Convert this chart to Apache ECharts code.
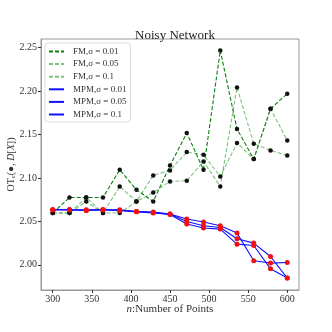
<!DOCTYPE html>
<html>
<head>
<meta charset="utf-8">
<script src="https://cdn.jsdelivr.net/npm/echarts@6/dist/echarts.min.js"></script>
<style>
  html, body { margin: 0; padding: 0; background: #fff; }
  #chart { width: 332px; height: 332px; }
</style>
</head>
<body>
<div id="chart"></div>
<script>
// n: number of points (x)
var nPoints = [300, 321.43, 342.86, 364.29, 385.71, 407.14, 428.57, 450, 471.43, 492.86, 514.29, 535.71, 557.14, 578.57, 600];

// FM
var fm001 = [2.0596, 2.0775, 2.0775, 2.0775, 2.1094, 2.0864, 2.0729, 2.1144, 2.1517, 2.1094, 2.2469, 2.1563, 2.1218, 2.1797, 2.1970];
var fm005 = [2.0596, 2.0596, 2.0729, 2.0596, 2.0902, 2.0729, 2.1029, 2.1086, 2.1298, 2.1267, 2.1017, 2.1402, 2.1218, 2.1797, 2.1432];
var fm01 = [2.0596, 2.0596, 2.0775, 2.0596, 2.0596, 2.0729, 2.0833, 2.0960, 2.0968, 2.1190, 2.0902, 2.2043, 2.1394, 2.1317, 2.1259];

// MPM
var mpm001 = [2.0634, 2.0634, 2.0626, 2.0634, 2.0634, 2.0614, 2.0603, 2.0584, 2.0527, 2.0492, 2.0449, 2.0365, 2.0046, 2.0020, 2.0026];
var mpm005 = [2.0634, 2.0634, 2.0634, 2.0634, 2.0626, 2.0614, 2.0608, 2.0584, 2.0499, 2.0449, 2.0430, 2.0300, 2.0250, 2.0096, 1.9847];
var mpm01 = [2.0634, 2.0634, 2.0626, 2.0634, 2.0626, 2.0610, 2.0598, 2.0580, 2.0469, 2.0423, 2.0411, 2.0238, 2.0222, 1.9954, 1.9847];

var xTicks = [300, 350, 400, 450, 500, 550, 600];
var yTicks = [2.00, 2.05, 2.10, 2.15, 2.20, 2.25];

var names = ['FM,σ = 0.01', 'FM,σ = 0.05', 'FM,σ = 0.1', 'MPM,σ = 0.01', 'MPM,σ = 0.05', 'MPM,σ = 0.1'];

function pairs(ys) {
    var res = [];
    for (var i = 0; i < ys.length; i++) {
        res.push([nPoints[i], ys[i]]);
    }
    return res;
}

var serif = 'Liberation Serif';

function lineSeries(name, ys, color, dashed, dotColor, dotSize) {
    return {
        name: name,
        type: 'line',
        data: pairs(ys),
        symbol: 'circle',
        symbolSize: dotSize,
        showAllSymbol: true,
        itemStyle: { color: dotColor },
        lineStyle: { color: color, width: 1.1, type: dashed ? [4, 2] : 'solid' },
        animation: false
    };
}

var myChart = echarts.init(document.getElementById('chart'));
var option = {
    backgroundColor: '#fff',
    title: {
        text: 'Noisy Network',
        left: 170,
        top: 24,
        textAlign: 'center',
        textStyle: { fontFamily: serif, fontSize: 13, fontWeight: 'normal', color: '#222' }
    },
    legend: {
        orient: 'vertical',
        left: 45,
        top: 43,
        padding: [4, 4, 3, 3],
        itemWidth: 15,
        itemHeight: 8,
        itemGap: 3.6,
        backgroundColor: '#fff',
        borderColor: '#ddd',
        borderWidth: 1,
        borderRadius: 3,
        itemStyle: { opacity: 0 },
        textStyle: { fontFamily: serif, fontSize: 9, color: '#333', padding: [0, 0, 0, 4] },
        data: names
    },
    grid: {
        left: 41, top: 39, right: 33, bottom: 42,
        containLabel: false, outerBoundsMode: 'none',
        show: true, borderColor: '#999', borderWidth: 1
    },
    xAxis: {
        type: 'value',
        min: 285,
        max: 615,
        name: '{i|n}{t|:Number of Points}',
        nameLocation: 'middle',
        nameGap: 14,
        nameMoveOverlap: false,
        nameTextStyle: {
            rich: {
                i: { fontFamily: serif, fontStyle: 'italic', fontSize: 11, color: '#333' },
                t: { fontFamily: serif, fontSize: 11, color: '#333' }
            }
        },
        axisLine: { show: true, lineStyle: { color: '#999' } },
        axisTick: { show: true, length: 3, lineStyle: { color: '#333' }, customValues: xTicks },
        axisLabel: { fontFamily: serif, fontSize: 10, color: '#333', margin: 4, customValues: xTicks },
        splitLine: { show: false }
    },
    yAxis: {
        type: 'value',
        min: 1.971,
        max: 2.260,
        name: '{t|OT}{s|ε}{t|(●, }{i|D}{t|[}{i|X}{t|])}',
        nameLocation: 'middle',
        nameRotate: 90,
        nameGap: 24,
        nameMoveOverlap: false,
        nameTextStyle: {
            rich: {
                t: { fontFamily: serif, fontSize: 10, color: '#333' },
                s: { fontFamily: serif, fontSize: 7, color: '#333', padding: [4, 0, 0, 0] },
                i: { fontFamily: serif, fontStyle: 'italic', fontSize: 10, color: '#333' }
            }
        },
        axisLine: { show: true, lineStyle: { color: '#999' } },
        axisTick: { show: true, length: 3, lineStyle: { color: '#333' }, customValues: yTicks },
        axisLabel: {
            fontFamily: serif, fontSize: 10, color: '#333', margin: 4, customValues: yTicks,
            formatter: function (v) { return v.toFixed(2); }
        },
        splitLine: { show: false }
    },
    series: [
        lineSeries(names[0], fm001, '#0a800a', true, '#111', 4.5),
        lineSeries(names[1], fm005, 'rgba(40,150,40,0.6)', true, '#111', 4.5),
        lineSeries(names[2], fm01, 'rgba(40,150,40,0.6)', true, '#111', 4.5),
        lineSeries(names[3], mpm001, '#1010ff', false, '#f01010', 5),
        lineSeries(names[4], mpm005, '#1010ff', false, '#f01010', 5),
        lineSeries(names[5], mpm01, '#1010ff', false, '#f01010', 5)
    ]
};
if (option && typeof option === "object") {
    myChart.setOption(option, true);
}
</script>
</body>
</html>
